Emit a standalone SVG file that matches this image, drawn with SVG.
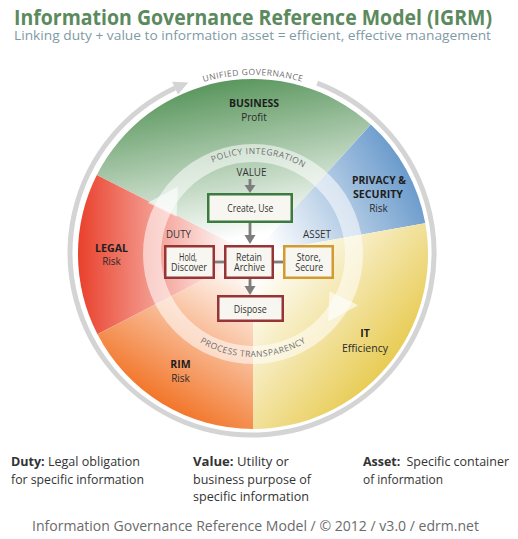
<svg xmlns="http://www.w3.org/2000/svg" width="518" height="539" viewBox="0 0 518 539">
<style>
text{font-family:"Open Sans","Noto Sans","Liberation Sans",sans-serif;}
.title{font-size:22px;font-weight:bold;fill:#5b8a5e}
.sub{font-size:13.5px;fill:#7f9aa6}
.lab{font-size:10.5px;font-weight:bold;fill:#1e1e1e;text-anchor:middle}
.sl{font-size:10px;fill:#2a2a2a;text-anchor:middle}
.bx{font-size:10px;fill:#333;text-anchor:middle}
.cap{font-size:10px;fill:#333;text-anchor:middle}
.arc{font-size:8.5px;fill:#6e6e6e;letter-spacing:0.5px}
.leg{font-size:13px;fill:#333}
.foot{font-size:14.5px;fill:#6b6b6b}
.conn{stroke:#7d7d7d;stroke-width:2.8;fill:none}
.head{fill:#7d7d7d}
.box{fill:#f7f6f0;stroke-width:2.5}
.ring{fill:none;stroke:#fff;stroke-opacity:0.55;stroke-width:18}
.rarrow{fill:#fff;fill-opacity:0.6}
</style>
<defs>
<linearGradient id="gBus" gradientUnits="userSpaceOnUse" x1="253" y1="254" x2="221.4" y2="81.9">
<stop offset="0.1" stop-color="#5b975e" stop-opacity="0"/><stop offset="1" stop-color="#5b975e"/></linearGradient>
<linearGradient id="gPri" gradientUnits="userSpaceOnUse" x1="253" y1="254" x2="406.2" y2="169.4">
<stop offset="0.1" stop-color="#6b9bcc" stop-opacity="0"/><stop offset="1" stop-color="#6b9bcc"/></linearGradient>
<linearGradient id="gIT" gradientUnits="userSpaceOnUse" x1="253" y1="254" x2="387.2" y2="366.4">
<stop offset="0.1" stop-color="#e8cc55" stop-opacity="0"/><stop offset="1" stop-color="#e8cc55"/></linearGradient>
<linearGradient id="gRIM" gradientUnits="userSpaceOnUse" x1="253" y1="254" x2="162" y2="403.5">
<stop offset="0.1" stop-color="#f2762a" stop-opacity="0"/><stop offset="1" stop-color="#f2762a"/></linearGradient>
<linearGradient id="gLeg" gradientUnits="userSpaceOnUse" x1="253" y1="254" x2="78" y2="254.6">
<stop offset="0.1" stop-color="#e9402b" stop-opacity="0"/><stop offset="1" stop-color="#e9402b"/></linearGradient>
<path id="pUG" d="M106.4,151.3 A179,179 0 0 1 399.6,151.3"/>
<path id="pPI" d="M159,219.8 A100,100 0 0 1 347,219.8"/>
<path id="pPT" d="M156.2,289.2 A103,103 0 0 0 349.8,289.2"/>
</defs>

<rect width="518" height="539" fill="#fff"/>

<g id="header">
<text class="title" x="14" y="25" textLength="478" lengthAdjust="spacingAndGlyphs">Information Governance Reference Model (IGRM)</text>
<text class="sub" x="14" y="40" textLength="477" lengthAdjust="spacingAndGlyphs">Linking duty + value to information asset = efficient, effective management</text>
</g>

<g id="outer-ring">
<path d="M317.2,83.1 A182,182 0 1 1 175.1,88.1" fill="none" stroke="#d4d4d4" stroke-width="5"/>
<polygon points="178,94.4 172.1,81.7 188.3,82.5" fill="#d4d4d4"/>
<text class="arc" fill="#777"><textPath href="#pUG" startOffset="50%" text-anchor="middle">UNIFIED GOVERNANCE</textPath></text>
</g>

<g id="business">
<path d="M253,254 L96.8,175 A175,175 0 0 1 370.8,124.6 Z" fill="#fff"/>
<path d="M253,254 L96.8,175 A175,175 0 0 1 370.8,124.6 Z" fill="url(#gBus)"/>
<text class="lab" x="254" y="106.5" textLength="50" lengthAdjust="spacingAndGlyphs">BUSINESS</text>
<text class="sl" x="254" y="120.5">Profit</text>
</g>
<g id="privacy">
<path d="M253,254 L370.8,124.6 A175,175 0 0 1 425.3,223.3 Z" fill="#fff"/>
<path d="M253,254 L370.8,124.6 A175,175 0 0 1 425.3,223.3 Z" fill="url(#gPri)"/>
<text class="lab" x="379" y="184" textLength="54" lengthAdjust="spacingAndGlyphs">PRIVACY &amp;</text>
<text class="lab" x="378" y="198" textLength="50" lengthAdjust="spacingAndGlyphs">SECURITY</text>
<text class="sl" x="378.5" y="212">Risk</text>
</g>
<g id="it">
<path d="M253,254 L425.3,223.3 A175,175 0 0 1 253,429 Z" fill="#fff"/>
<path d="M253,254 L425.3,223.3 A175,175 0 0 1 253,429 Z" fill="url(#gIT)"/>
<text class="lab" x="365" y="336.5">IT</text>
<text class="sl" x="365" y="351.5" textLength="46" lengthAdjust="spacingAndGlyphs">Efficiency</text>
</g>
<g id="rim">
<path d="M253,254 L253,429 A175,175 0 0 1 97.5,334.3 Z" fill="#fff"/>
<path d="M253,254 L253,429 A175,175 0 0 1 97.5,334.3 Z" fill="url(#gRIM)"/>
<text class="lab" x="180.5" y="367.5">RIM</text>
<text class="sl" x="180.5" y="382">Risk</text>
</g>
<g id="legal">
<path d="M253,254 L97.5,334.3 A175,175 0 0 1 96.8,175 Z" fill="#fff"/>
<path d="M253,254 L97.5,334.3 A175,175 0 0 1 96.8,175 Z" fill="url(#gLeg)"/>
<text class="lab" x="111.5" y="251.5" textLength="33" lengthAdjust="spacingAndGlyphs">LEGAL</text>
<text class="sl" x="111.5" y="264.5">Risk</text>
</g>

<g id="process-ring">
<circle class="ring" cx="253" cy="254" r="101"/>
<polygon class="rarrow" points="176.6,216.7 147.8,202.7 177.9,186.4"/>
<polygon class="rarrow" points="329.4,291.3 358.2,305.3 328.1,321.6"/>
<text class="arc" fill="#555"><textPath href="#pPI" startOffset="128" text-anchor="middle">POLICY INTEGRATION</textPath></text>
<text class="arc" fill="#555"><textPath href="#pPT" startOffset="50%" text-anchor="middle">PROCESS TRANSPARENCY</textPath></text>
</g>

<g id="captions">
<text class="cap" x="251.5" y="176" textLength="30" lengthAdjust="spacingAndGlyphs">VALUE</text>
<text class="cap" x="178.5" y="237.7" textLength="25" lengthAdjust="spacingAndGlyphs">DUTY</text>
<text class="cap" x="317" y="237.7" textLength="28" lengthAdjust="spacingAndGlyphs">ASSET</text>
</g>

<g id="connectors">
<line class="conn" x1="250" y1="179" x2="250" y2="186"/>
<polygon class="head" points="244.5,185 255.5,185 250,193"/>
<line class="conn" x1="250" y1="223" x2="250" y2="236"/>
<polygon class="head" points="244.5,235 255.5,235 250,244"/>
<line class="conn" x1="250" y1="279" x2="250" y2="287"/>
<polygon class="head" points="244.5,286 255.5,286 250,295"/>
<line class="conn" x1="214" y1="262" x2="225" y2="262"/>
<line class="conn" x1="273" y1="262" x2="284" y2="262"/>
</g>

<g id="create-use">
<rect class="box" x="208.25" y="194.25" width="83.5" height="27.5" stroke="#3d7a3f"/>
<text class="bx" x="250.3" y="212.3" textLength="46" lengthAdjust="spacingAndGlyphs">Create, Use</text>
</g>
<g id="hold-discover">
<rect class="box" x="165.25" y="246.25" width="48.5" height="31.5" stroke="#963436"/>
<text class="bx" x="188" y="260.5" textLength="18" lengthAdjust="spacingAndGlyphs">Hold,</text>
<text class="bx" x="189" y="271" textLength="36" lengthAdjust="spacingAndGlyphs">Discover</text>
</g>
<g id="retain-archive">
<rect class="box" x="225.25" y="246.25" width="47.5" height="31.5" stroke="#963436"/>
<text class="bx" x="249" y="260.5" textLength="26" lengthAdjust="spacingAndGlyphs">Retain</text>
<text class="bx" x="249.5" y="271" textLength="31" lengthAdjust="spacingAndGlyphs">Archive</text>
</g>
<g id="store-secure">
<rect class="box" x="284.25" y="246.25" width="48.5" height="31.5" stroke="#d39a2f"/>
<text class="bx" x="308.7" y="260.5" textLength="24" lengthAdjust="spacingAndGlyphs">Store,</text>
<text class="bx" x="309.3" y="271" textLength="28" lengthAdjust="spacingAndGlyphs">Secure</text>
</g>
<g id="dispose">
<rect class="box" x="218.25" y="296.25" width="64.5" height="24.5" stroke="#963436"/>
<text class="bx" x="250.2" y="312.7" textLength="33" lengthAdjust="spacingAndGlyphs">Dispose</text>
</g>

<g id="legend">
<text class="leg" x="11" y="466" textLength="129" lengthAdjust="spacingAndGlyphs"><tspan font-weight="bold">Duty:</tspan> Legal obligation</text>
<text class="leg" x="11" y="484" textLength="133" lengthAdjust="spacingAndGlyphs">for specific information</text>
<text class="leg" x="193" y="466" textLength="96" lengthAdjust="spacingAndGlyphs"><tspan font-weight="bold">Value:</tspan> Utility or</text>
<text class="leg" x="193" y="484" textLength="118" lengthAdjust="spacingAndGlyphs">business purpose of</text>
<text class="leg" x="193" y="501" textLength="116" lengthAdjust="spacingAndGlyphs">specific information</text>
<text class="leg" x="363" y="466" textLength="146" lengthAdjust="spacingAndGlyphs"><tspan font-weight="bold">Asset:</tspan><tspan dx="3"> Specific container</tspan></text>
<text class="leg" x="363" y="484" textLength="80" lengthAdjust="spacingAndGlyphs">of information</text>
</g>

<g id="footer">
<text class="foot" x="32" y="531" textLength="447" lengthAdjust="spacingAndGlyphs">Information Governance Reference Model / © 2012 / v3.0 / edrm.net</text>
</g>
</svg>
